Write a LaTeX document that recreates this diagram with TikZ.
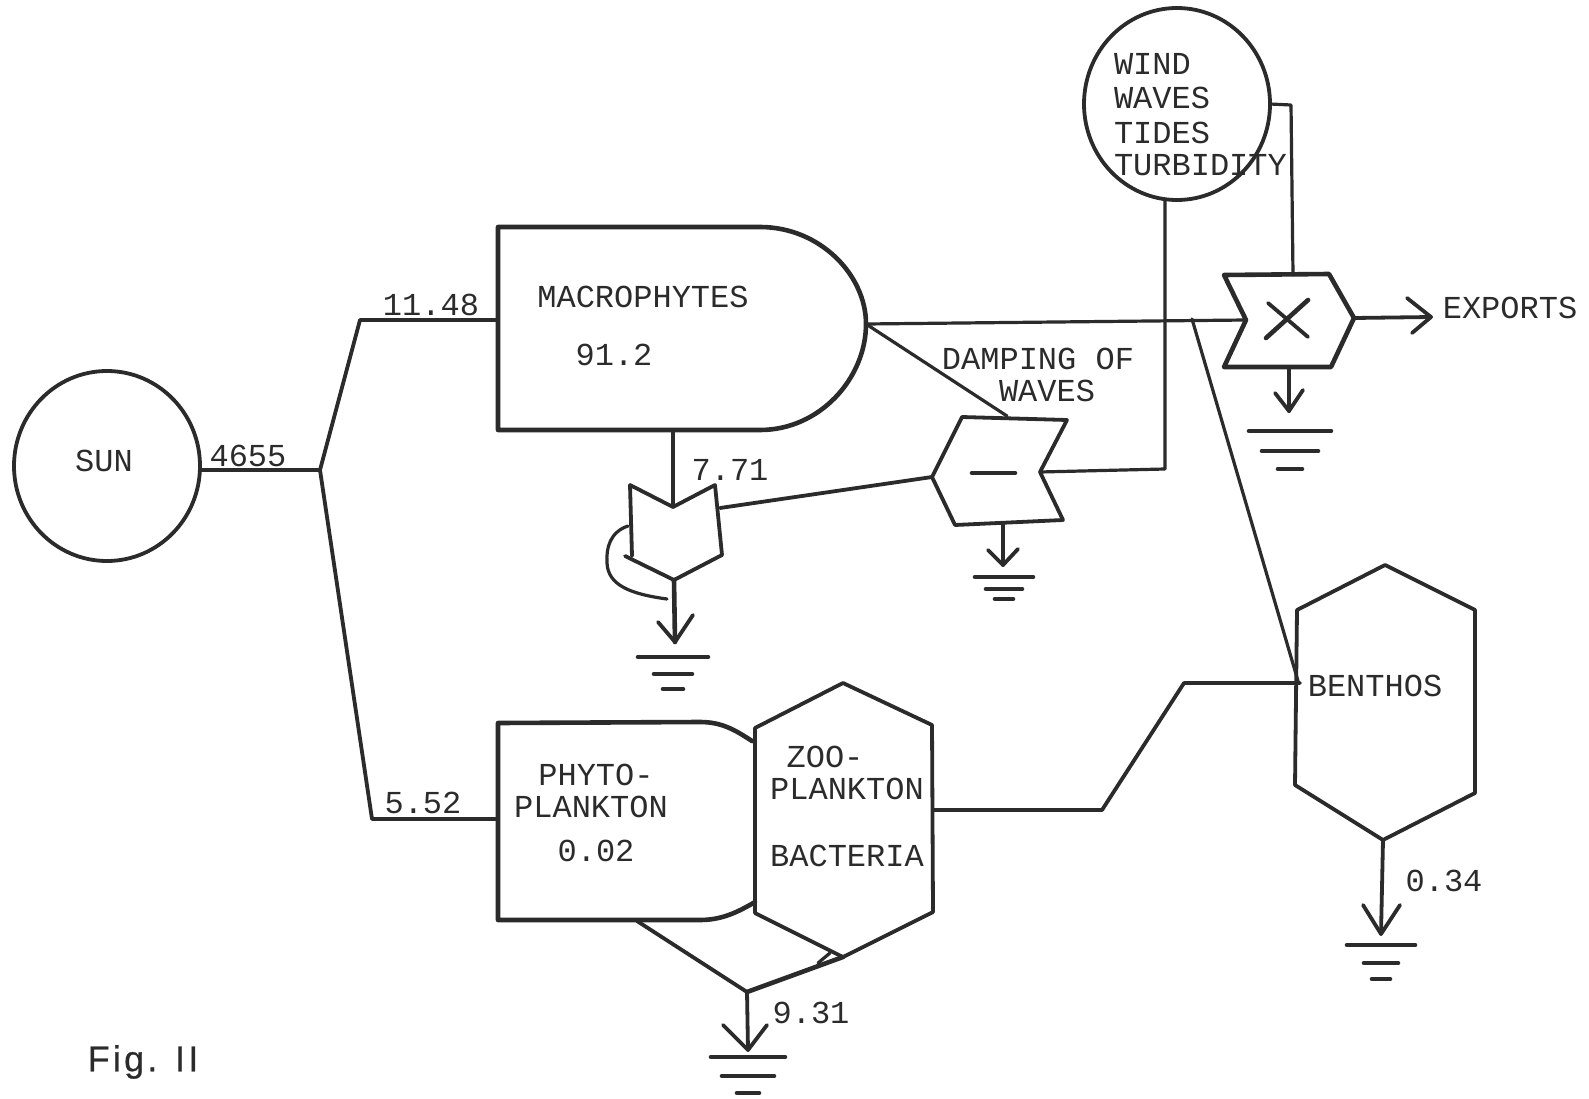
\documentclass[tikz,border=0pt]{standalone}
\usepackage{fontspec}
\setmainfont{Liberation Mono}
\newfontfamily\figfont[LetterSpace=9,FakeBold=0.6]{Liberation Sans}
\usetikzlibrary{shapes.geometric}
\definecolor{ink}{HTML}{2B2B2B}
\tikzset{
  line/.style={draw=ink,line width=3.8pt,line cap=round,line join=round},
  thinline/.style={draw=ink,line width=3.2pt,line cap=round,line join=round},
  heavy/.style={draw=ink,line width=4.6pt,line cap=round,line join=round},
  source/.style={ellipse,draw=ink,line width=3.8pt,inner sep=0pt,outer sep=0pt},
  lbl/.style={inner sep=0pt,outer sep=0pt,text=ink,font=\fontsize{32}{35}\selectfont},
  lbll/.style={lbl,anchor=west},
}
% ground symbol: centre x, three y values, half widths
\newcommand{\groundsym}[6]{%
  \draw[heavy] (#1-#4,#2) -- (#1+#4,#2);
  \draw[heavy] (#1-#5,#3) -- (#1+#5,#3);
  \draw[heavy] (#1-#6,#3+#3-#2-2) -- (#1+#6,#3+#3-#2-2);}
\begin{document}
\begin{tikzpicture}[x=1pt,y=-1pt]
\useasboundingbox (0,0) rectangle (1589,1099);
\fill[white] (0,0) rectangle (1589,1099);

% --- sources
\node[source,minimum width=186pt,minimum height=190pt] (sun) at (107,466) {};
\node[source,minimum width=186pt,minimum height=192pt] (wind) at (1177,104) {};

% --- named points
\coordinate (sunout) at (200,470);
\coordinate (split) at (320,470);
\coordinate (upbend) at (360,320);
\coordinate (lowbend) at (372,819);
\coordinate (macroin) at (498,320);
\coordinate (phytoin) at (498,819);
\coordinate (macrotip) at (866,324);
\coordinate (macrofoot) at (673,430);
\coordinate (xnotch) at (1246,320);
\coordinate (xtop) at (1293,275);
\coordinate (xtip) at (1354,318);
\coordinate (xfoot) at (1289,367);
\coordinate (exporthead) at (1431,317);
\coordinate (windfoot) at (1165,200);
\coordinate (windknee) at (1165,469);
\coordinate (windbend) at (1291,105);
\coordinate (mnotch) at (1040,472);
\coordinate (mtop) at (1007,416);
\coordinate (mtip) at (932,477);
\coordinate (mfoot) at (1003,525);
\coordinate (wnotch) at (673,507);
\coordinate (wside) at (720,508);
\coordinate (wtip) at (674,580);
\coordinate (zooout) at (933,810);
\coordinate (zbend1) at (1102,810);
\coordinate (zbend2) at (1184,683);
\coordinate (bin) at (1300,683);
\coordinate (bfoot) at (1383,840);
\coordinate (branch) at (1192,319);
\coordinate (bin2) at (1298,681);
\coordinate (phytofoot) at (637,921);
\coordinate (zoofoot) at (843,957);
\coordinate (merge) at (747,992);

% --- storages
\draw[heavy] (498,227) -- (760,227)
  .. controls (820,227) and (866,275) .. (macrotip)
  .. controls (866,378) and (820,430) .. (760,430) -- (498,430) -- cycle;
\draw[heavy] (752,741) .. controls (735,730) and (722,722) .. (700,722) -- (498,723) -- (498,920) -- (700,920)
  .. controls (722,920) and (738,912) .. (755,902);
\draw[line] (843,683) -- (932,725) -- (933,912) -- (zoofoot) -- (755,913) -- (755,728) -- cycle;
\draw[line] (1385,565) -- (1475,610) -- (1475,793) -- (bfoot) -- (1295,785) -- (1297,610) -- cycle;

% --- gates
\draw[heavy] (1224,275) -- (1329,274) -- (xtip) -- (1331,367) -- (1224,367) -- (xnotch) -- cycle;
\draw[heavy] (1266,338) -- (1308,300);
\draw[line] (1268,303) -- (1308,337);
\draw[line] (962,417) -- (1067,420) -- (mnotch) -- (1063,520) -- (955,525) -- (mtip) -- cycle;
\draw[heavy] (972,473) -- (1015,473);
\draw[line] (630,485) -- (wnotch) -- (715,485) -- (722,555) -- (wtip) -- (625,556);
\draw[line] (630,485) -- (632,556);

% --- connectors
\draw[line] (sunout) -- (split) -- (upbend) -- (macroin);
\draw[line] (split) -- (lowbend) -- (phytoin);
\draw[thinline] (macrotip) -- (xnotch);
\draw[thinline] (macrotip) -- (mtop);
\draw[thinline] (macrofoot) -- (wnotch);
\draw[line] (wside) -- (mtip);
\draw[thinline] (windfoot) -- (windknee) -- (mnotch);
\draw[thinline] (wind.east) -- (windbend) -- (xtop);
\draw[line] (xtip) -- (exporthead);
\draw[line] (1407,298) -- (exporthead) -- (1412,333);
\draw[thinline] (branch) -- (bin2);
\draw[line] (zooout) -- (zbend1) -- (zbend2) -- (bin);
\draw[line] (phytofoot) -- (merge);
\draw[heavy] (merge) -- (zoofoot);
\draw[thinline] (818,963) -- (830,953);

% --- drains
\draw[thinline] (628,526) .. controls (610,532) and (606,548) .. (607,563)
   .. controls (608,585) and (630,594) .. (667,599);
\coordinate (wdrain) at (675,642);
\draw[heavy] (wtip) -- (wdrain);
\draw[line] (658,622) -- (wdrain) -- (693,615);
\groundsym{673}{657}{674}{35}{19}{10}
\coordinate (mdrain) at (1003,565);
\draw[line] (mfoot) -- (mdrain);
\draw[line] (988,550) -- (mdrain) -- (1018,549);
\groundsym{1004}{577}{589}{29}{18}{9}
\coordinate (xdrain) at (1289,411);
\draw[line] (xfoot) -- (xdrain);
\draw[line] (1275,393) -- (xdrain) -- (1303,390);
\groundsym{1290}{431}{451}{41}{28}{12}
\coordinate (mergedrain) at (748,1050);
\draw[line] (merge) -- (mergedrain);
\draw[line] (723,1025) -- (mergedrain) -- (767,1025);
\groundsym{748}{1057}{1076}{37}{26}{11}
\coordinate (bdrain) at (1381,934);
\draw[line] (bfoot) -- (bdrain);
\draw[line] (1363,905) -- (bdrain) -- (1400,905);
\groundsym{1381}{945}{963}{34}{17}{9}

% --- labels
\node[lbl] (tsun) at (104,461) {SUN};
\node[lbl] (t4655) at (248,456) {4655};
\node[lbl] (t1148) at (431,305) {11.48};
\node[lbl] (tmacro) at (643,297) {MACROPHYTES};
\node[lbl] (t912) at (614,355) {91.2};
\node[lbl] (t771) at (730,470) {7.71};
\node[lbl] (tdamp) at (1038,359) {DAMPING OF};
\node[lbl] (twaves) at (1047,391) {WAVES};
\node[lbll] (twind) at (1114,64) {WIND};
\node[lbll] (twaves2) at (1114,98) {WAVES};
\node[lbll] (ttides) at (1114,133) {TIDES};
\node[lbll] (tturb) at (1114,165) {TURBIDITY};
\node[lbl] (texp) at (1510,308) {EXPORTS};
\node[lbl] (t552) at (423,803) {5.52};
\node[lbl] (tphyto) at (596,775) {PHYTO-};
\node[lbl] (tplank) at (591,807) {PLANKTON};
\node[lbl] (t002) at (596,851) {0.02};
\node[lbl] (tzoo) at (825,757) {ZOO-};
\node[lbl] (tplank2) at (847,789) {PLANKTON};
\node[lbl] (tbact) at (847,856) {BACTERIA};
\node[lbl] (tbenth) at (1375,686) {BENTHOS};
\node[lbl] (t034) at (1444,881) {0.34};
\node[lbl] (t931) at (811,1013) {9.31};
\node[inner sep=0pt,text=ink,font=\figfont\fontsize{36}{39}\selectfont] (tfig) at (143,1062) {Fig. II};
\end{tikzpicture}
\end{document}
